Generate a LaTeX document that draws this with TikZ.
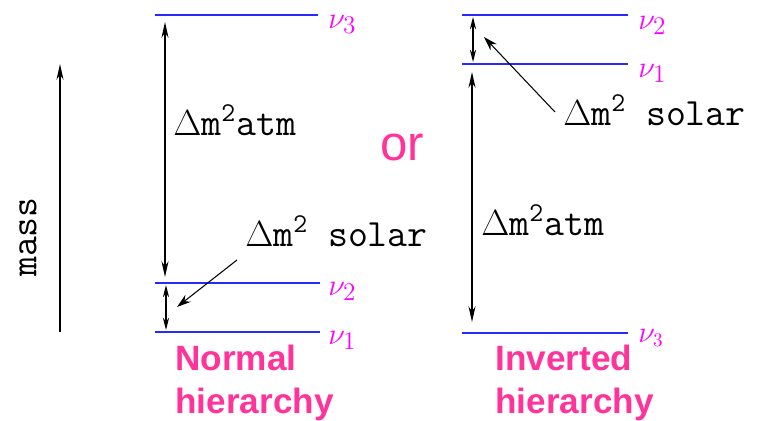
\documentclass[tikz,border=0pt]{standalone}
\usepackage{fontspec}
\setsansfont{Liberation Sans}
\usetikzlibrary{arrows.meta,positioning}
\definecolor{levelblue}{RGB}{40,40,255}
\definecolor{numagenta}{RGB}{255,0,255}
\definecolor{hotpink}{RGB}{255,51,153}

\begin{document}
\begin{tikzpicture}[
  x=0.02cm,y=-0.02cm,
  >={Stealth[length=9pt,width=4pt]},
  level/.style={draw=levelblue,line width=1.3pt},
  gap/.style={<->,line width=0.8pt,black},
  smallgap/.style={gap,>={Stealth[length=7pt,width=3.5pt]}},
  pointer/.style={->,line width=0.6pt,black,>={Stealth[length=8pt,width=5pt]}},
  nulabel/.style={anchor=base west,inner sep=0pt,text=numagenta,font=\fontsize{19}{21}\selectfont},
  dmlabel/.style={anchor=base west,inner sep=0pt,font=\fontsize{22}{26}\selectfont\ttfamily},
  hierlabel/.style={anchor=base west,inner sep=0pt,align=left,text=hotpink,font=\fontsize{20}{24.4}\selectfont\sffamily\bfseries}
]
\useasboundingbox (0,0) rectangle (768,420);

% Mass axis.
\coordinate (mbot) at (60,332);
\coordinate (mtop) at (60,64);
\draw[->,line width=0.8pt] (mbot) -- (mtop);
\node[rotate=90,inner sep=0pt,font=\fontsize{22}{26}\selectfont\ttfamily] (mass) at (28,237) {mass};

% Normal hierarchy.
\coordinate (n3l) at (155,15);  \coordinate (n3r) at (318,15);
\coordinate (n2l) at (155,283); \coordinate (n2r) at (320,283);
\coordinate (n1l) at (155,332); \coordinate (n1r) at (320,332);
\draw[level] (n3l) -- (n3r);
\draw[level] (n2l) -- (n2r);
\draw[level] (n1l) -- (n1r);
\node[nulabel] (nnu3) at (328,28) {$\nu_3$};
\node[nulabel] (nnu2) at (328,295) {$\nu_2$};
\node[nulabel] (nnu1) at (328,344) {$\nu_1$};
\coordinate (natmtop) at (165,22);
\coordinate (natmbot) at (165,277);
\draw[gap] (natmtop) -- (natmbot);
\node[dmlabel] (natm) at (173,135) {$\Delta$m\textsuperscript{2}atm};
\coordinate (nsoltop) at (166,285);
\coordinate (nsolbot) at (166,330);
\draw[smallgap] (nsoltop) -- (nsolbot);
\node[dmlabel] (nsol) at (245,246) {$\Delta$m\textsuperscript{2} solar};
\coordinate (nsoltail) at (237,260);
\coordinate (nsoltip) at (177,307);
\draw[pointer] (nsoltail) -- (nsoltip);
\node[hierlabel] (normal) at (175,413) {Normal\\hierarchy};

\node[text=hotpink,font=\fontsize{28}{30}\selectfont\sffamily] (or) at (402,148) {or};

% Inverted hierarchy.
\coordinate (i2l) at (462,15);  \coordinate (i2r) at (628,15);
\coordinate (i1l) at (462,64);  \coordinate (i1r) at (628,64);
\coordinate (i3l) at (462,333); \coordinate (i3r) at (628,333);
\draw[level] (i2l) -- (i2r);
\draw[level] (i1l) -- (i1r);
\draw[level] (i3l) -- (i3r);
\node[nulabel] (inu2) at (638,29) {$\nu_2$};
\node[nulabel] (inu1) at (638,77) {$\nu_1$};
\node[nulabel,font=\fontsize{16}{18}\selectfont] (inu3) at (638,342) {$\nu_3$};
\coordinate (isoltop) at (473,17);
\coordinate (isolbot) at (473,62);
\draw[smallgap] (isoltop) -- (isolbot);
\node[dmlabel] (isol) at (563,125) {$\Delta$m\textsuperscript{2} solar};
\coordinate (isoltail) at (555,112);
\coordinate (isoltip) at (484,37);
\draw[pointer] (isoltail) -- (isoltip);
\coordinate (iatmtop) at (472,72);
\coordinate (iatmbot) at (472,322);
\draw[gap] (iatmtop) -- (iatmbot);
\node[dmlabel] (iatm) at (481,235) {$\Delta$m\textsuperscript{2}atm};
\node[hierlabel] (inverted) at (495,413) {Inverted\\hierarchy};
\end{tikzpicture}
\end{document}
